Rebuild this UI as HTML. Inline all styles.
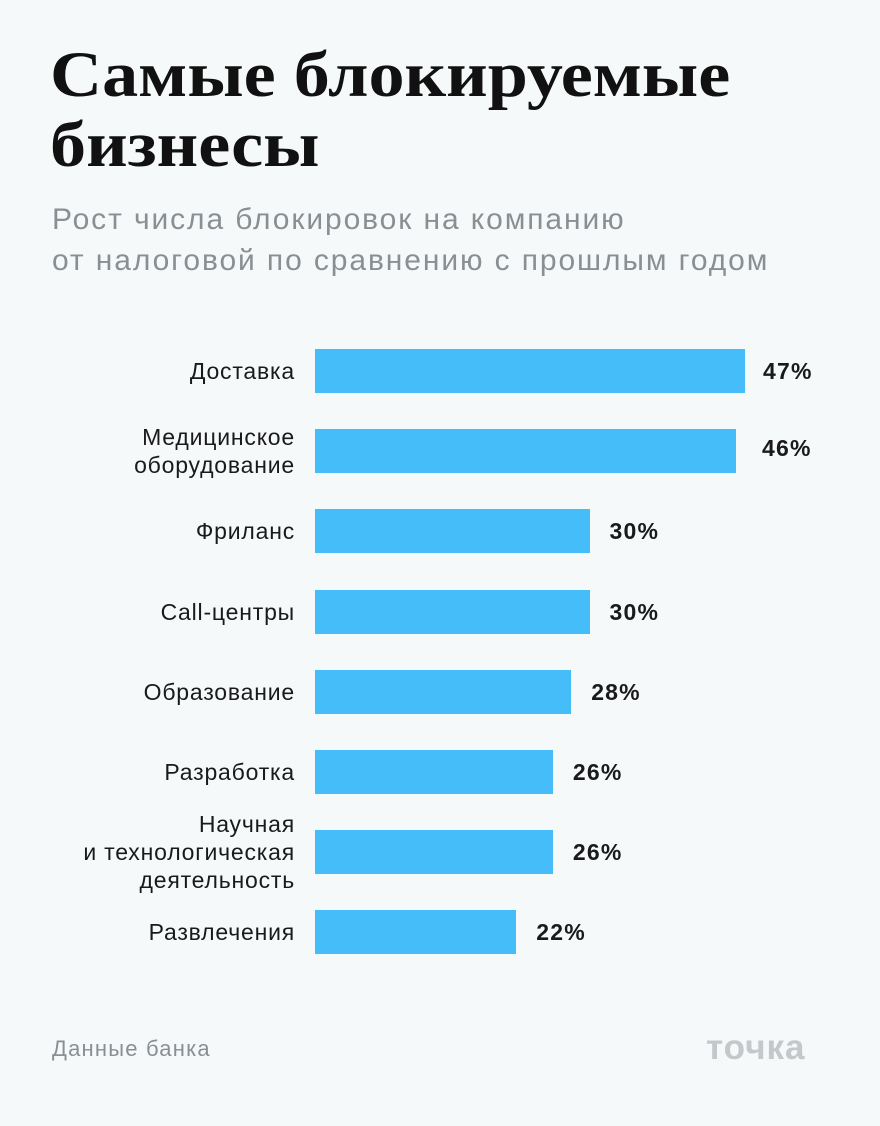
<!DOCTYPE html>
<html><head><meta charset="utf-8">
<style>
html,body{margin:0;padding:0;}
body{width:880px;height:1126px;background:#f6f9fa;position:relative;overflow:hidden;font-family:"Liberation Sans","Noto Sans CJK SC",sans-serif;}
#title{position:absolute;left:50px;top:40px;font-family:"Liberation Serif","Noto Serif CJK SC",serif;font-weight:bold;font-size:65px;line-height:70px;color:#111;transform:scaleX(1.11);transform-origin:0 0;white-space:nowrap;}
#sub{position:absolute;left:52px;top:199px;font-size:30px;line-height:41px;color:#8a8f93;letter-spacing:1.9px;white-space:nowrap;}
.lab{position:absolute;right:585px;text-align:right;font-size:23px;line-height:28px;color:#1a1a1a;letter-spacing:0.8px;}
.bar{position:absolute;background:#45bdf8;}
.val{position:absolute;font-size:23px;font-weight:bold;color:#1a1a1a;line-height:28px;letter-spacing:1.2px;}
#src{position:absolute;left:52px;top:1036px;font-size:22px;color:#8a8f93;letter-spacing:1.2px;}
#logo{position:absolute;left:706px;top:1028px;font-size:35px;font-weight:bold;color:#c5c8ca;letter-spacing:1px;}
</style></head><body>
<div id="title">Самые блокируемые<br>бизнесы</div>
<div id="sub">Рост числа блокировок на компанию<br>от налоговой по сравнению с прошлым годом</div>
<div id="chart"></div>
<div id="src">Данные банка</div>
<div id="logo">точка</div>
<script>
const categories=["Доставка","Медицинское<br>оборудование","Фриланс","Call-центры","Образование","Разработка","Научная<br>и технологическая<br>деятельность","Развлечения"];
const values=[47,46,30,30,28,26,26,22];
const valueLabels=["47%","46%","30%","30%","28%","26%","26%","22%"];
const x0=315, pxPer=9.15, y0=349, pitch=80.2, bh=44;
function xs(v){return v*pxPer;}
function ys(i){return y0+i*pitch;}
const c=document.getElementById('chart');
categories.forEach((cat,i)=>{
  const y=ys(i);
  const b=document.createElement('div');
  b.className='bar';
  
  
  b.style.left=x0+'px';b.style.top=y+'px';b.style.width=xs(values[i])+'px';b.style.height=bh+'px';
  c.appendChild(b);
  const l=document.createElement('div');
  l.className='lab';
  
  
  l.innerHTML=cat;
  const lines=cat.split('<br>').length;
  l.style.top=(y+bh/2-lines*14)+'px';
  c.appendChild(l);
  const v=document.createElement('div');
  v.className='val';
  
  
  v.textContent=valueLabels[i];
  const end=x0+xs(values[i]);
  v.style.left=(values[i]>40?Math.max(end+18,762):end+20)+'px';
  v.style.top=(y+bh/2-14+(i===1?-3:0))+'px';
  c.appendChild(v);
});
</script>
</body></html>
